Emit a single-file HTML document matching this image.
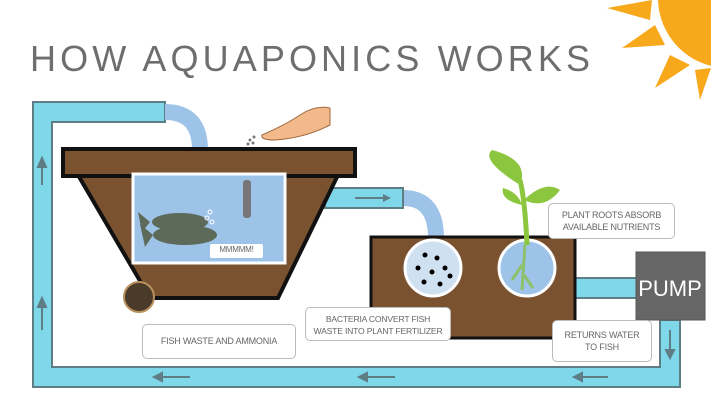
<!DOCTYPE html>
<html><head><style>
body{margin:0;width:711px;height:400px;overflow:hidden;background:#fff;font-family:"Liberation Sans",sans-serif}
.lbl{position:absolute;background:#fff;border:1px solid #bbb;border-radius:5px;color:#666;font-size:9px;letter-spacing:-0.2px;text-align:center;line-height:12px;box-sizing:border-box;white-space:nowrap}
</style></head><body>
<svg width="711" height="400" style="position:absolute;left:0;top:0">
<g fill="#f7a81b">
<circle cx="728" cy="-2" r="70"/>
<polygon points="607,8 652,0 650,20"/>
<polygon points="622,48 655,25 665,45"/>
<polygon points="655,88 670,55 690,65"/>
<polygon points="700,100 695,70 711,68"/>
</g>
<text x="30" y="71" font-size="36" fill="#6e6e6e" textLength="560" lengthAdjust="spacing" font-family="Liberation Sans">HOW AQUAPONICS WORKS</text>
<path d="M165,102 H33 V387 H680 V320 H660 V367 H52 V122 H165 Z" fill="#7fd8ea" stroke="#5f7d85" stroke-width="2"/>
<g stroke="#5f7d85" stroke-width="2" fill="#5f7d85">
<line x1="42" y1="185" x2="42" y2="165"/><polygon points="38,167 46,167 42,158"/>
<line x1="42" y1="330" x2="42" y2="305"/><polygon points="38,307 46,307 42,298"/>
<line x1="160" y1="377" x2="190" y2="377"/><polygon points="162,373 162,381 154,377"/>
<line x1="365" y1="377" x2="395" y2="377"/><polygon points="367,373 367,381 359,377"/>
<line x1="580" y1="377" x2="608" y2="377"/><polygon points="582,373 582,381 574,377"/>
<line x1="670" y1="330" x2="670" y2="352"/><polygon points="666,350 674,350 670,358"/>
</g>
<path d="M165,112 Q200,112 200,150" fill="none" stroke="#9ec3e8" stroke-width="16"/>
<path d="M403,198 Q436,198 436,238" fill="none" stroke="#9ec3e8" stroke-width="16"/>
<rect x="325" y="188" width="78" height="20" fill="#7fd8ea" stroke="#5f7d85" stroke-width="2"/>
<line x1="355" y1="198" x2="385" y2="198" stroke="#5f7d85" stroke-width="2"/><polygon points="383,194 383,202 391,198" fill="#5f7d85"/>
<rect x="573" y="278" width="66" height="20" fill="#7fd8ea" stroke="#5f7d85" stroke-width="2"/>
<polygon points="78,175 338,175 278,298 150,298" fill="#7a5230" stroke="#111" stroke-width="4"/>
<rect x="63" y="149" width="292" height="27" fill="#7a5230" stroke="#111" stroke-width="4"/>
<rect x="133" y="174" width="152" height="89" fill="#9ec3e8" stroke="#fff" stroke-width="3"/>
<g fill="#5d6a5a">
<ellipse cx="180" cy="222" rx="28" ry="9"/><polygon points="150,222 138,212 142,232"/>
<ellipse cx="185" cy="235" rx="32" ry="10"/><polygon points="153,235 140,224 145,247"/>
</g>
<g fill="#777"><rect x="243" y="180" width="8" height="38" rx="3"/></g>
<circle cx="210" cy="212" r="2" fill="none" stroke="#fff"/><circle cx="207" cy="218" r="2" fill="none" stroke="#fff"/><circle cx="212" cy="222" r="2" fill="none" stroke="#fff"/>
<circle cx="139" cy="297" r="15" fill="#4a3a2a" stroke="#b8915e" stroke-width="2"/>
<path d="M262,135 Q285,125 300,115 Q315,105 330,108 L330,125 Q305,138 275,140 Q260,140 262,135Z" fill="#f2b98a" stroke="#a06a40"/>
<g fill="#777"><circle cx="250" cy="140" r="1.5"/><circle cx="254" cy="137" r="1.5"/><circle cx="248" cy="144" r="1.5"/><circle cx="253" cy="143" r="1.5"/></g>
<rect x="371" y="237" width="204" height="101" fill="#7a5230" stroke="#111" stroke-width="3"/>
<circle cx="433" cy="268" r="28" fill="#cfe0f0" stroke="#fff" stroke-width="3"/>
<g fill="#000"><circle cx="425" cy="255" r="2.5"/><circle cx="437" cy="258" r="2.5"/><circle cx="418" cy="268" r="2.5"/><circle cx="432" cy="272" r="2.5"/><circle cx="445" cy="268" r="2.5"/><circle cx="424" cy="282" r="2.5"/><circle cx="440" cy="284" r="2.5"/><circle cx="450" cy="276" r="2.5"/></g>
<circle cx="527" cy="268" r="28" fill="#9ec3e8" stroke="#fff" stroke-width="3"/>
<path d="M525,245 L522,290 M522,265 L512,280 M524,275 L533,288" stroke="#8cc06a" stroke-width="3" fill="none"/>
<path d="M527,245 Q525,200 520,180" stroke="#8cc63f" stroke-width="5" fill="none"/>
<path d="M520,185 Q480,160 492,150 Q530,160 520,185Z" fill="#8cc63f"/>
<path d="M524,200 Q545,180 560,190 Q545,210 524,200Z" fill="#8cc63f"/>
<path d="M522,205 Q500,200 503,188 Q518,192 522,205Z" fill="#8cc63f"/>
<rect x="636" y="252" width="69" height="68" fill="#666" stroke="#555"/>
<text x="670" y="296" font-size="22" fill="#fff" text-anchor="middle" font-family="Liberation Sans">PUMP</text>
</svg>
<div class="lbl" style="left:210px;top:244px;width:53px;height:14px;font-size:8px;line-height:12px;border:none;border-radius:2px">MMMMM!</div>
<div class="lbl" style="left:142px;top:324px;width:154px;height:35px;line-height:33px">FISH WASTE AND AMMONIA</div>
<div class="lbl" style="left:305px;top:307px;width:146px;height:34px;padding-top:5px;font-size:8.6px">BACTERIA CONVERT FISH<br>WASTE INTO PLANT FERTILIZER</div>
<div class="lbl" style="left:548px;top:203px;width:127px;height:36px;padding-top:5px">PLANT ROOTS ABSORB<br>AVAILABLE NUTRIENTS</div>
<div class="lbl" style="left:552px;top:320px;width:100px;height:42px;padding-top:8px">RETURNS WATER<br>TO FISH</div>
</body></html>
